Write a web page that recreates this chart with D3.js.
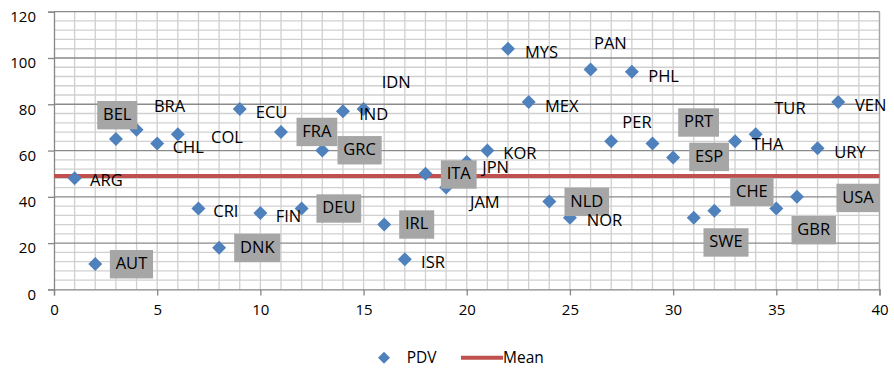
<!DOCTYPE html>
<html>
<head>
<meta charset="utf-8">
<script src="https://cdn.jsdelivr.net/npm/d3@7"></script>
<style>
  html, body { margin: 0; padding: 0; background: #ffffff; }
  svg { display: block; font-family: "Open Sans", "Noto Sans", sans-serif; }
</style>
</head>
<body>
<svg id="chart" width="894" height="369"></svg>
<script>
// Country codes, x position (index) and PDV value
const countries = ["ARG","AUT","BEL","BRA","CHL","COL","CRI","DNK","ECU","FIN",
                   "FRA","DEU","GRC","IDN","IND","IRL","ISR","ITA","JAM","JPN",
                   "KOR","MYS","MEX","NLD","NOR","PAN","PER","PHL","PRT","ESP",
                   "SWE","CHE","THA","TUR","GBR","USA","URY","VEN"];
const xIndex = [1,2,3,4,5,6,7,8,9,10,11,12,13,14,15,16,17,18,19,20,
                21,22,23,24,25,26,27,28,29,30,31,32,33,34,35,36,37,38];
const pdv = [48,11,65,69,63,67,35,18,78,33,
             68,35,60,77,78,28,13,50,44,55,
             60,104,81,38,31,95,64,94,63,57,
             31,34,64,67,35,40,61,81];
const meanValue = 49;
const meanRange = [0, 40];
const xTicks = [0,5,10,15,20,25,30,35,40];
const yTicks = [0,20,40,60,80,100,120];
const seriesNames = ["PDV", "Mean"];

// Label placement: pixel offset of text start/baseline from the marker, and boxed flag
const labelOffsets = {
  ARG:[15.4,7.4,0], AUT:[20.4,5.1,1], BEL:[-12.9,-19,1], BRA:[17.4,-18,0],
  CHL:[15.5,9.1,0], COL:[33.2,9,0],   CRI:[14.8,8.9,0],  DNK:[20.9,5,1],
  ECU:[16,9.4,0],   FIN:[15.3,8.7,0], FRA:[21.3,4.7,1],  DEU:[20.6,4.9,1],
  GRC:[21,4.5,1],   IDN:[38.8,-22.9,0], IND:[-4.3,11.1,0], IRL:[20.8,4.7,1],
  ISR:[16.2,9,0],   ITA:[21.2,5.6,1], JAM:[23.9,20.7,0], JPN:[15.5,11.2,0],
  KOR:[15.9,8.8,0], MYS:[17,9.6,0],   MEX:[16.3,9.7,0],  NLD:[21,5.2,1],
  NOR:[16.8,8.3,0], PAN:[3.4,-20.2,0], PER:[11.1,-13.6,0], PHL:[16.4,9.9,0],
  PRT:[31.5,-16.3,1], ESP:[21.9,4.2,1], SWE:[15.5,29.6,1], CHE:[21.6,-14,1],
  THA:[16.7,8.7,0], TUR:[18.6,-20,0], GBR:[21,26.6,1],   USA:[45.3,5.9,1],
  URY:[16.7,10.1,0], VEN:[16.8,9,0]
};

const points = countries.map((c, i) => ({ code: c, x: xIndex[i], y: pdv[i] }));

const svg = d3.select("#chart");
const plot = { left: 54, right: 879.5, top: 11.7, bottom: 289.4 };

const x = d3.scaleLinear().domain([0, 40]).range([plot.left, plot.right]);
const y = d3.scaleLinear().domain([0, 120]).range([plot.bottom, plot.top]);

const blue = "#4f81bd";
const red = "#c0504d";

// Minor grid: vertical every 1, horizontal every 4
const grid = svg.append("g");
grid.selectAll("line.vminor")
  .data(d3.range(1, 41))
  .join("line")
  .attr("x1", d => x(d)).attr("x2", d => x(d))
  .attr("y1", plot.top).attr("y2", plot.bottom)
  .attr("stroke", "#d0d0d0").attr("stroke-width", 1.3);
grid.selectAll("line.hminor")
  .data(d3.range(4, 120, 4).filter(v => v % 20 !== 0))
  .join("line")
  .attr("x1", plot.left).attr("x2", plot.right)
  .attr("y1", d => y(d)).attr("y2", d => y(d))
  .attr("stroke", "#d0d0d0").attr("stroke-width", 1.3);
// Major horizontal grid
grid.selectAll("line.hmajor")
  .data(yTicks.filter(v => v > 0))
  .join("line")
  .attr("x1", plot.left).attr("x2", plot.right)
  .attr("y1", d => y(d)).attr("y2", d => y(d))
  .attr("stroke", "#8a8a8a").attr("stroke-width", 1.3);
// Right border
grid.append("line")
  .attr("x1", plot.right).attr("x2", plot.right)
  .attr("y1", plot.top).attr("y2", plot.bottom)
  .attr("stroke", "#a6a6a6").attr("stroke-width", 1.3);

// Axes
const xAxis = d3.axisBottom(x).tickValues(xTicks).tickSize(6).tickPadding(9).tickFormat(d3.format("d"));
const yAxis = d3.axisLeft(y).tickValues(yTicks).tickSize(6).tickPadding(0).tickFormat(d3.format("d"));

const gx = svg.append("g").attr("transform", `translate(0,${plot.bottom})`).call(xAxis);
const gy = svg.append("g").attr("transform", `translate(${plot.left},0)`).call(yAxis);

[gx, gy].forEach(g => {
  g.select(".domain").attr("stroke", "#868686").attr("stroke-width", 1.3);
  g.selectAll(".tick line").attr("stroke", "#868686").attr("stroke-width", 1.3);
  g.selectAll(".tick text")
    .attr("fill", "#000").attr("font-size", "15px")
    .attr("font-family", "'Open Sans', sans-serif");
});
gy.selectAll(".tick text").attr("x", -18).attr("dy", "0.95em").attr("y", -4.5);

// Mean line
svg.append("line")
  .attr("x1", x(meanRange[0])).attr("x2", x(meanRange[1]))
  .attr("y1", y(meanValue)).attr("y2", y(meanValue))
  .attr("stroke", red).attr("stroke-width", 4);

// Markers
const diamond = d3.symbol().type(d3.symbolSquare).size(98);
svg.append("g").selectAll("path")
  .data(points)
  .join("path")
  .attr("d", diamond)
  .attr("transform", d => `translate(${x(d.x)},${y(d.y)}) rotate(45)`)
  .attr("fill", blue);

// Data labels
const lg = svg.append("g");
points.forEach(p => {
  const [dx, dy, boxed] = labelOffsets[p.code];
  const tx = x(p.x) + dx, ty = y(p.y) + dy;
  const g = lg.append("g");
  const t = g.append("text")
    .attr("x", tx).attr("y", ty)
    .attr("font-size", "16.5px")
    .attr("fill", "#000")
    .text(p.code);
  if (boxed) {
    const w = t.node().getComputedTextLength();
    g.insert("rect", "text")
      .attr("x", tx - 5.8).attr("y", ty - 19)
      .attr("width", w + 11.6).attr("height", 28.4)
      .attr("fill", "#a6a6a6");
  }
});

// Legend
const leg = svg.append("g");
leg.append("path")
  .attr("d", d3.symbol().type(d3.symbolSquare).size(72)())
  .attr("transform", "translate(384,357.7) rotate(45)")
  .attr("fill", blue);
leg.append("text").attr("x", 406.7).attr("y", 363.3)
  .attr("font-size", "15.5px").attr("fill", "#000").text(seriesNames[0]);
leg.append("line")
  .attr("x1", 461).attr("x2", 503).attr("y1", 357.7).attr("y2", 357.7)
  .attr("stroke", red).attr("stroke-width", 4);
leg.append("text").attr("x", 503).attr("y", 363.3)
  .attr("font-size", "15.5px").attr("fill", "#000").text(seriesNames[1]);
</script>
</body>
</html>
